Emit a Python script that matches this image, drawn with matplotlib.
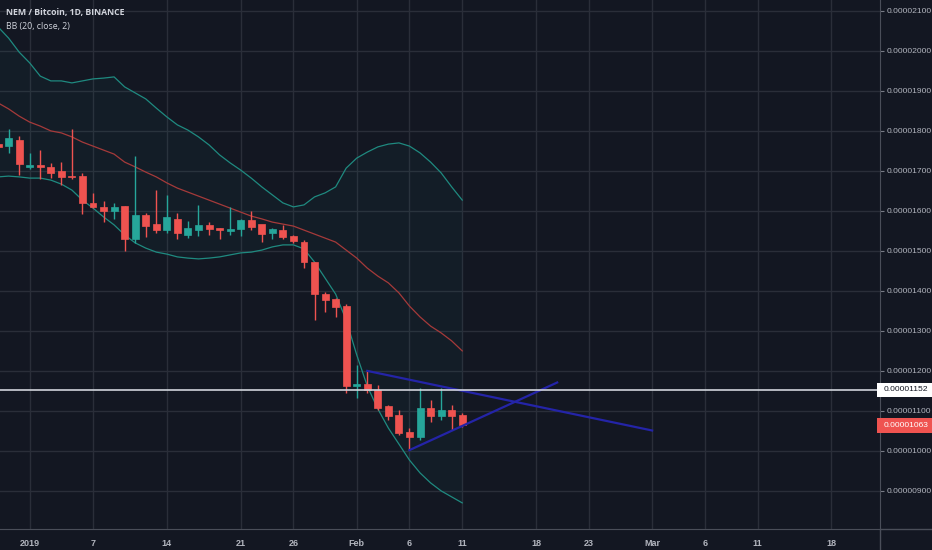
import matplotlib
matplotlib.use("Agg")
import matplotlib.pyplot as plt
import matplotlib.dates as mdates
import matplotlib.transforms as mtransforms
from matplotlib.patches import Rectangle
from matplotlib.lines import Line2D
import numpy as np
import pandas as pd

# prices in satoshi (1e-8 BTC), daily candles 2018-12-29 .. 2019-02-11
dates = pd.date_range("2018-12-29", "2019-02-11", freq="D")
opens = [1766, 1761, 1776, 1710, 1714, 1709, 1699, 1687, 1685, 1618, 1610, 1600, 1610, 1528, 1589,
         1566, 1551, 1579, 1539, 1551, 1564, 1555, 1550, 1553, 1576, 1565, 1545, 1551, 1536, 1522,
         1472, 1391, 1379, 1361, 1161, 1166, 1151, 1110, 1089, 1047, 1034, 1107, 1086, 1101, 1089]
highs = [1770, 1804, 1786, 1744, 1751, 1719, 1722, 1803, 1694, 1644, 1625, 1618, 1611, 1736, 1595,
         1651, 1639, 1593, 1574, 1614, 1572, 1557, 1610, 1580, 1600, 1565, 1557, 1564, 1538, 1526,
         1472, 1396, 1381, 1366, 1214, 1199, 1164, 1114, 1101, 1056, 1156, 1126, 1156, 1114, 1094]
lows = [1755, 1744, 1689, 1704, 1679, 1681, 1664, 1680, 1591, 1606, 1572, 1580, 1500, 1518, 1533,
        1544, 1545, 1528, 1531, 1537, 1539, 1529, 1539, 1536, 1551, 1521, 1529, 1529, 1518, 1456,
        1326, 1346, 1334, 1144, 1131, 1144, 1101, 1076, 1039, 1001, 1026, 1072, 1076, 1051, 1059]
closes = [1759, 1781, 1716, 1714, 1708, 1694, 1683, 1683, 1618, 1608, 1600, 1608, 1528, 1589, 1561,
          1551, 1583, 1543, 1555, 1564, 1554, 1551, 1555, 1576, 1559, 1541, 1553, 1533, 1523, 1472,
          1391, 1376, 1359, 1162, 1166, 1151, 1107, 1086, 1044, 1034, 1107, 1086, 1101, 1086, 1063]

# Bollinger bands (20, close, 2)
bb_upper = [2059, 2031, 1996, 1969, 1936, 1924, 1924, 1919, 1924, 1929, 1931, 1934, 1909, 1894, 1879,
            1856, 1834, 1814, 1801, 1784, 1764, 1739, 1719, 1701, 1681, 1659, 1639, 1619, 1609, 1614,
            1634, 1644, 1659, 1706, 1731, 1746, 1759, 1766, 1769, 1761, 1744, 1721, 1694, 1659, 1626]
bb_basis = [1869, 1854, 1836, 1821, 1811, 1799, 1794, 1784, 1771, 1761, 1751, 1741, 1721, 1709, 1696,
            1684, 1669, 1656, 1646, 1636, 1626, 1616, 1606, 1596, 1586, 1579, 1571, 1566, 1561, 1551,
            1541, 1531, 1521, 1501, 1481, 1456, 1436, 1419, 1394, 1361, 1334, 1311, 1294, 1274, 1249]
bb_lower = [1684, 1686, 1684, 1681, 1681, 1676, 1666, 1651, 1626, 1606, 1584, 1564, 1539, 1519, 1506,
            1496, 1491, 1484, 1481, 1479, 1481, 1484, 1489, 1494, 1496, 1501, 1509, 1514, 1514, 1504,
            1471, 1431, 1391, 1326, 1239, 1161, 1104, 1056, 1016, 976, 944, 919, 899, 884, 869]

# drawn trend lines
trend_upper_dates = ["2019-02-02", "2019-03-01"]
trend_upper_vals = [1199, 1050]
trend_lower_dates = ["2019-02-06", "2019-02-20"]
trend_lower_vals = [1001, 1170]

hline_price = 1152
last_price = closes[-1]

tick_dates = ["2019-01-01", "2019-01-07", "2019-01-14", "2019-01-21", "2019-01-26", "2019-02-01",
              "2019-02-06", "2019-02-11", "2019-02-18", "2019-02-23", "2019-03-01", "2019-03-06",
              "2019-03-11", "2019-03-18"]
tick_labels = ["2019", "7", "14", "21", "26", "Feb", "6", "11", "18", "23", "Mar", "6", "11", "18"]
y_ticks = list(range(900, 2200, 100))

BG = "#131722"
GRID = "#2a2e39"
UP = "#26a69a"
DOWN = "#ef5350"
TXT = "#b2b5be"

plt.rcParams["font.family"] = ["Liberation Sans", "DejaVu Sans"]

fig = plt.figure(figsize=(9.32, 5.5), dpi=100, facecolor=BG)
ax = fig.add_axes([0, 21 / 550, 880 / 932, 529 / 550])
ax.set_facecolor(BG)

x = mdates.date2num(dates)
jan1 = mdates.date2num(pd.Timestamp("2019-01-01"))
ax.set_xlim(jan1 - 2.815, jan1 + 80.6)
ax.set_ylim(803.75, 2126.25)

# bands
ax.fill_between(x, bb_lower, bb_upper, color=UP, alpha=0.045, lw=0, zorder=1)
ax.plot(x, bb_upper, color="#1f8a80", lw=0.9, zorder=2)
ax.plot(x, bb_lower, color="#1f8a80", lw=0.9, zorder=2)
ax.plot(x, bb_basis, color="#a53a3a", lw=0.9, zorder=2)

# candles
w = 0.66
for xi, o, h, l, c in zip(x, opens, highs, lows, closes):
    col = UP if c >= o else DOWN
    ax.vlines(xi, l, h, color=col, lw=1, zorder=3)
    ax.add_patch(Rectangle((xi - w / 2, min(o, c)), w, max(abs(c - o), 2.5),
                           facecolor=col, edgecolor=col, lw=0.5, zorder=4))

# trend lines
ax.plot(mdates.date2num(pd.to_datetime(trend_upper_dates)), trend_upper_vals, color="#2424a8", lw=1.6, zorder=5)
ax.plot(mdates.date2num(pd.to_datetime(trend_lower_dates)), trend_lower_vals, color="#2424a8", lw=1.6, zorder=5)

ax.axhline(hline_price, color="#d1d4dc", lw=1.2, zorder=6)

# grid and axes
ax.set_xticks(mdates.date2num(pd.to_datetime(tick_dates)))
ax.set_xticklabels(tick_labels)
ax.set_yticks(y_ticks)
ax.yaxis.set_major_formatter(plt.FuncFormatter(lambda v, p: f"{v * 1e-8:.8f}"))
ax.yaxis.tick_right()
ax.grid(True, color=GRID, lw=1)
ax.set_axisbelow(True)
ax.tick_params(axis="y", length=3, color="#787b86", labelcolor=TXT, labelsize=6.1, pad=1.5)
ax.tick_params(axis="x", length=0, labelcolor=TXT, labelsize=6.5, pad=7)
for lab in ax.get_xticklabels():
    lab.set_fontweight("bold")
for s in ["top", "left"]:
    ax.spines[s].set_visible(False)
for s in ["bottom", "right"]:
    ax.spines[s].set_color("#4a4e59")
fig.add_artist(Line2D([880 / 932, 880 / 932], [0, 21 / 550], color="#4a4e59", lw=1))
fig.add_artist(Line2D([880 / 932, 1], [21 / 550, 21 / 550], color="#4a4e59", lw=1))

# price labels on the scale
trans = mtransforms.blended_transform_factory(fig.transFigure, ax.transData)
for price, fc, tc in [(hline_price, "#ffffff", "#131722"), (last_price, DOWN, "#ffffff")]:
    fig.add_artist(Rectangle((877 / 932, price - 18), 55 / 932, 36, transform=trans,
                             facecolor=fc, edgecolor="none", zorder=10))
    fig.text(884 / 932, price, f"{price * 1e-8:.8f}", transform=trans, color=tc,
             fontsize=6.1, va="center", ha="left", zorder=11)

# legend text
fig.text(6 / 932, 1 - 13 / 550, "NEM / Bitcoin, 1D, BINANCE", color="#d1d4dc", fontsize=6.3,
         fontweight="bold", family=["Open Sans", "DejaVu Sans"], va="center")
fig.text(6 / 932, 1 - 26 / 550, "BB (20, close, 2)", color="#d1d4dc", fontsize=6.3,
         family=["Open Sans", "DejaVu Sans"], va="center")

fig.savefig("out.png", dpi=100, facecolor=BG)
